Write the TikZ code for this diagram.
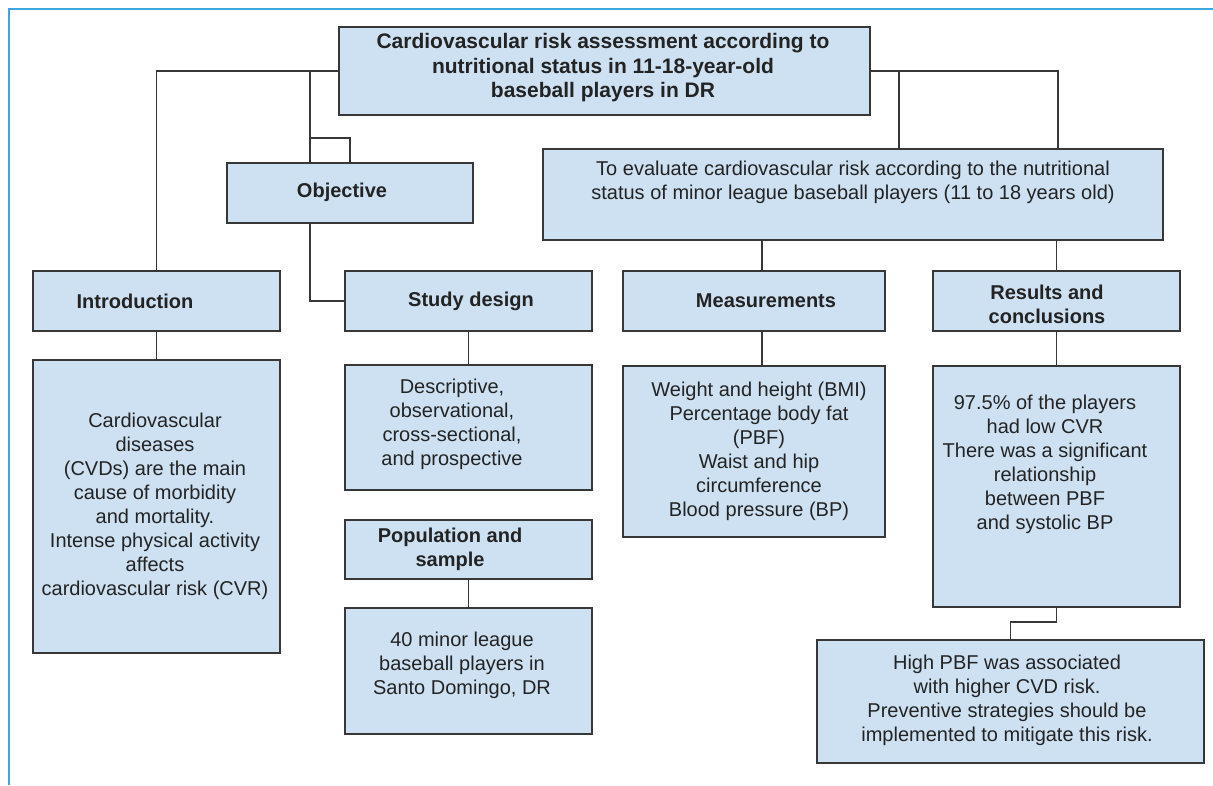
\documentclass[tikz,border=0pt]{standalone}
\usepackage{fontspec}
\setmainfont{Liberation Sans}
\definecolor{boxc}{RGB}{205,225,242}
\definecolor{linec}{RGB}{55,55,55}
\definecolor{textc}{RGB}{35,35,35}
\definecolor{framec}{RGB}{58,168,222}
\begin{document}
\begin{tikzpicture}[x=1pt,y=-1pt,
  box/.style={draw=linec, line width=1.8pt, fill=boxc, rectangle, inner sep=0pt, outer sep=0pt},
  txt/.style={text=textc, align=center, inner sep=0pt, font=\fontsize{20}{24}\selectfont},
  head/.style={txt, font=\fontsize{20}{24}\selectfont\bfseries},
  conn/.style={draw=linec, line width=1.8pt}]
\useasboundingbox (0,0) rectangle (1213,785);
% frame
\draw[framec, line width=2.5pt] (9,785) -- (9,9) -- (1213,9);
% boxes
\node[box, minimum width=531, minimum height=88] (title) at (604.5,71) {};
\node[box, minimum width=246, minimum height=60] (obj) at (350,193) {};
\node[box, minimum width=620, minimum height=91] (desc) at (853,194.5) {};
\node[box, minimum width=247, minimum height=60] (intro) at (156.5,301) {};
\node[box, minimum width=247, minimum height=60] (study) at (468.5,301) {};
\node[box, minimum width=262, minimum height=60] (meas) at (754,301) {};
\node[box, minimum width=247, minimum height=60] (res) at (1056.5,301) {};
\node[box, minimum width=247, minimum height=293] (introT) at (156.5,506.5) {};
\node[box, minimum width=247, minimum height=125] (studyT) at (468.5,427.5) {};
\node[box, minimum width=247, minimum height=59] (pop) at (468.5,549.5) {};
\node[box, minimum width=247, minimum height=126] (popT) at (468.5,671) {};
\node[box, minimum width=262, minimum height=171] (measT) at (754,451.5) {};
\node[box, minimum width=247, minimum height=241] (resT) at (1056.5,486.5) {};
\node[box, minimum width=387, minimum height=123] (fin) at (1010.5,701.5) {};
% texts
\node[head, font=\fontsize{21}{24.5}\selectfont\bfseries] (titleL) at (603,68) {Cardiovascular risk assessment according to\\nutritional status in 11-18-year-old\\baseball players in DR};
\node[txt] (descL) at (853,182) {To evaluate cardiovascular risk according to the nutritional\\status of minor league baseball players (11 to 18 years old)};
\node[head] (objL) at (342,192) {Objective};
\node[head] (introL) at (135,301) {Introduction};
\node[head] (studyL) at (471,301) {Study design};
\node[head] (measL) at (766,301) {Measurements};
\node[head] (resL) at (1047,304) {Results and\\conclusions};
\node[head] (popL) at (450,549) {Population and\\sample};
\node[txt] (introTL) at (155,506) {Cardiovascular\\diseases\\(CVDs) are the main\\cause of morbidity\\and mortality.\\Intense physical activity\\affects\\cardiovascular risk (CVR)};
\node[txt] (studyTL) at (452,424) {Descriptive,\\observational,\\cross-sectional,\\and prospective};
\node[txt] (measTL) at (759,451.5) {Weight and height (BMI)\\Percentage body fat\\(PBF)\\Waist and hip\\circumference\\Blood pressure (BP)};
\node[txt] (resTL) at (1045,464) {97.5\% of the players\\had low CVR\\There was a significant\\relationship\\between PBF\\and systolic BP};
\node[txt] (popTL) at (462,665) {40 minor league\\baseball players in\\Santo Domingo, DR};
\node[txt] (finL) at (1007,700) {High PBF was associated\\with higher CVD risk.\\Preventive strategies should be\\implemented to mitigate this risk.};
% junction coordinates
\coordinate (jL) at (310,71);
\coordinate (jB) at (310,138);
\coordinate (jR1) at (899,71);
\coordinate (jR2) at (1058,71);
\coordinate (jM) at (762,240);
% connectors
\draw[conn] (title.west) -| (intro.north);
\draw[conn] (jL) -- (jL |- obj.north);
\draw[conn] (jB) -| (obj.north);
\draw[conn] (jL |- obj.south) |- (study.west);
\draw[conn] (title.east) -- (jR2) -- (jR2 |- desc.north);
\draw[conn] (jR1) -- (jR1 |- desc.north);
\draw[conn] (jM) -- (jM |- meas.north);
\draw[conn] (res.north |- desc.south) -- (res.north);
\draw[conn] (intro.south) -- (introT.north);
\draw[conn] (study.south) -- (studyT.north);
\draw[conn] (jM |- meas.south) -- (jM |- measT.north);
\draw[conn] (res.south) -- (resT.north);
\draw[conn] (pop.south) -- (popT.north);
\draw[conn] (resT.south) -- ++(0,15) -| (fin.north);
\end{tikzpicture}
\end{document}
